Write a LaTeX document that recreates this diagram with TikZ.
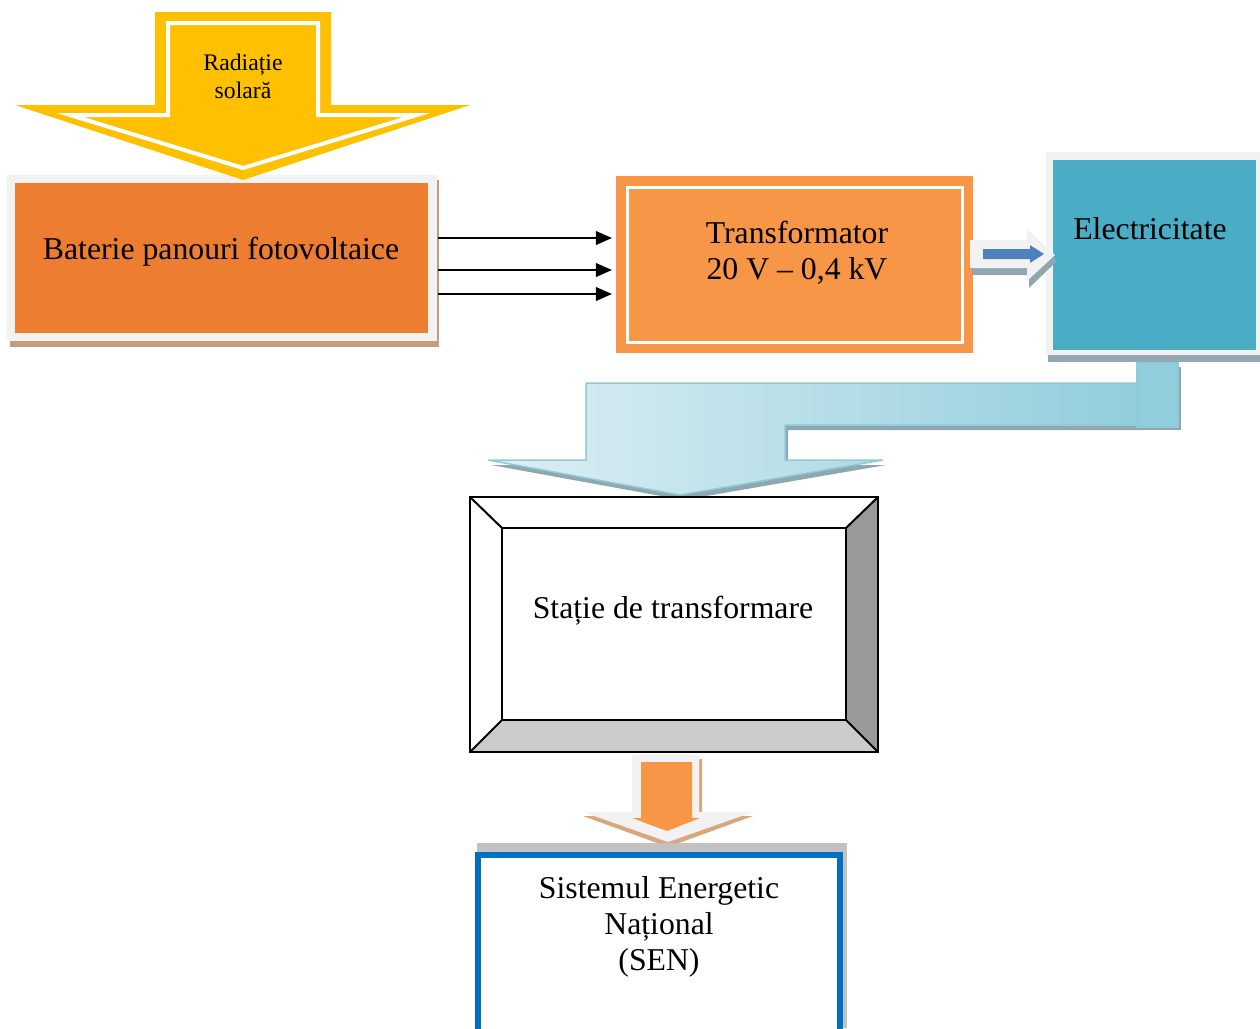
\documentclass[tikz,border=0pt]{standalone}
\usepackage{fontspec}
\setmainfont{Liberation Serif}
\usetikzlibrary{arrows.meta,fit}
\definecolor{sunY}{HTML}{FFC000}
\definecolor{batOr}{HTML}{ED7D31}
\definecolor{frameG}{HTML}{F2F2F2}
\definecolor{tanSh}{HTML}{C49C80}
\definecolor{trOr}{HTML}{F79646}
\definecolor{tealB}{HTML}{4BACC6}
\definecolor{tealSh}{HTML}{93A8B2}
\definecolor{arrBlue}{HTML}{4F81BD}
\definecolor{lbL}{HTML}{DDEFF4}
\definecolor{lbD}{HTML}{92CDDC}
\definecolor{lbEdge}{HTML}{8FCAD9}
\definecolor{lbSh}{HTML}{8FA7B0}
\definecolor{bevR}{HTML}{999999}
\definecolor{bevB}{HTML}{CCCCCC}
\definecolor{senBlue}{HTML}{0070C0}
\definecolor{orSh}{HTML}{D8A77E}
\begin{document}
\begin{tikzpicture}[x=0.4pt,y=-0.4pt,
  boxnode/.style={inner sep=0pt},
  lbl/.style={align=center,font=\fontsize{12.7}{14.4}\selectfont},
  small/.style={align=center,font=\fontsize{9.5}{11.2}\selectfont},
  wire/.style={line width=0.8pt,-{Triangle[length=6.5pt,width=5.5pt]}},
  bev/.style={draw=black,line width=0.8pt}]
\useasboundingbox (0,0) rectangle (1260,1028);
% ---- battery of PV panels
\fill[tanSh] (10,180) rectangle (439,347);
\fill[frameG] (7,175) rectangle (437,341);
\node[boxnode,fit={(7,175) (437,341)}] (batf) {};
\node[boxnode,fill=batOr,fit={(15,183) (428,333)}] (bat) {};
\node[lbl] (batt) at (221,252) {Baterie panouri fotovoltaice};
% ---- solar radiation arrow
\fill[sunY] (155,12) -- (331,12) -- (331,105) -- (470,105) -- (243,180) -- (15,105) -- (155,105) -- cycle;
\draw[white,line width=1.6pt,line join=miter] (168,23) -- (318,23) -- (318,115) -- (417,115) -- (243,168) -- (70,115) -- (168,115) -- cycle;
\node[small] (rad) at (243,76) {Radiație\\solară};
% ---- transformer
\node[boxnode,fill=trOr,fit={(616,176) (973,353)}] (tr) {};
\draw[white,line width=1.2pt] (627,187) rectangle (962,342);
\node[lbl] (trt) at (797,253) {Transformator\\20 V – 0,4 kV};
% wires
\draw[wire] (batf.east |- 0,238) -- (612,238);
\draw[wire] (batf.east |- 0,270) -- (612,270);
\draw[wire] (batf.east |- 0,294) -- (612,294);
% ---- electricity box
\fill[tealSh] (1048,160) rectangle (1260,362);
\fill[frameG] (1046,152) rectangle (1260,355);
\node[boxnode,fill=tealB,fit={(1053,160) (1256,350)}] (el) {};
\node[lbl] (elt) at (1150,229) {Electricitate};
% ---- small arrow transformer -> electricity
\fill[lbSh] (972,246) -- (1029,246) -- (1029,235) -- (1057,261) -- (1029,288) -- (1029,275) -- (972,275) -- cycle;
\fill[frameG] (970,240) -- (1027,240) -- (1027,229) -- (1055,255) -- (1027,281) -- (1027,268) -- (970,268) -- cycle;
\fill[arrBlue] (983,249) -- (1030,249) -- (1030,245) -- (1044,254) -- (1030,263) -- (1030,259) -- (983,259) -- cycle;
% ---- light blue bent arrow
\fill[lbSh] (589,388) -- (1143,388) -- (1143,430) -- (788,430) -- (788,465) -- (886,465) -- (683,500) -- (491,465) -- (589,465) -- cycle;
\path[left color=lbL,right color=lbD,draw=lbEdge,line width=0.6pt] (586,383) -- (1140,383) -- (1140,425) -- (785,425) -- (785,460) -- (883,460) -- (680,495) -- (488,460) -- (586,460) -- cycle;
\fill[lbSh] (1141,367) rectangle (1181,430);
\path[left color=lbD,middle color=lbL,right color=lbD,draw=lbEdge,line width=0.6pt] (1137,363) rectangle (1178,427);
% ---- transformer station (bevel)
\fill[white] (470,497) rectangle (878,752);
\fill[bevR] (878,497) -- (878,752) -- (846,720) -- (846,528) -- cycle;
\fill[bevB] (470,752) -- (878,752) -- (846,720) -- (502,720) -- cycle;
\draw[bev] (470,497) rectangle (878,752);
\draw[bev] (502,528) rectangle (846,720);
\draw[bev] (470,497) -- (502,528) (878,497) -- (846,528) (470,752) -- (502,720) (878,752) -- (846,720);
\node[boxnode,fit={(470,497) (878,752)}] (st) {};
\node[lbl] (stt) at (673,611) {Stație de transformare};
% ---- orange arrow station -> SEN
\fill[orSh] (635,759) -- (702,759) -- (702,816) -- (753,816) -- (668,847) -- (583,816) -- (635,816) -- cycle;
\fill[frameG] (632,755) -- (699,755) -- (699,812) -- (753,812) -- (668,842) -- (583,812) -- (632,812) -- cycle;
\fill[trOr] (641,762) -- (692,762) -- (692,818) -- (700,818) -- (667,831) -- (632,818) -- (641,818) -- cycle;
% ---- SEN
\fill[bevB!95!black] (477,843) rectangle (847,1028);
\draw[senBlue,line width=2.3pt,fill=white] (478,855) rectangle (840,1045);
\node[boxnode,fit={(475,852) (843,1028)}] (sen) {};
\node[lbl] (sent) at (659,927) {Sistemul Energetic\\Național\\(SEN)};
\end{tikzpicture}
\end{document}
